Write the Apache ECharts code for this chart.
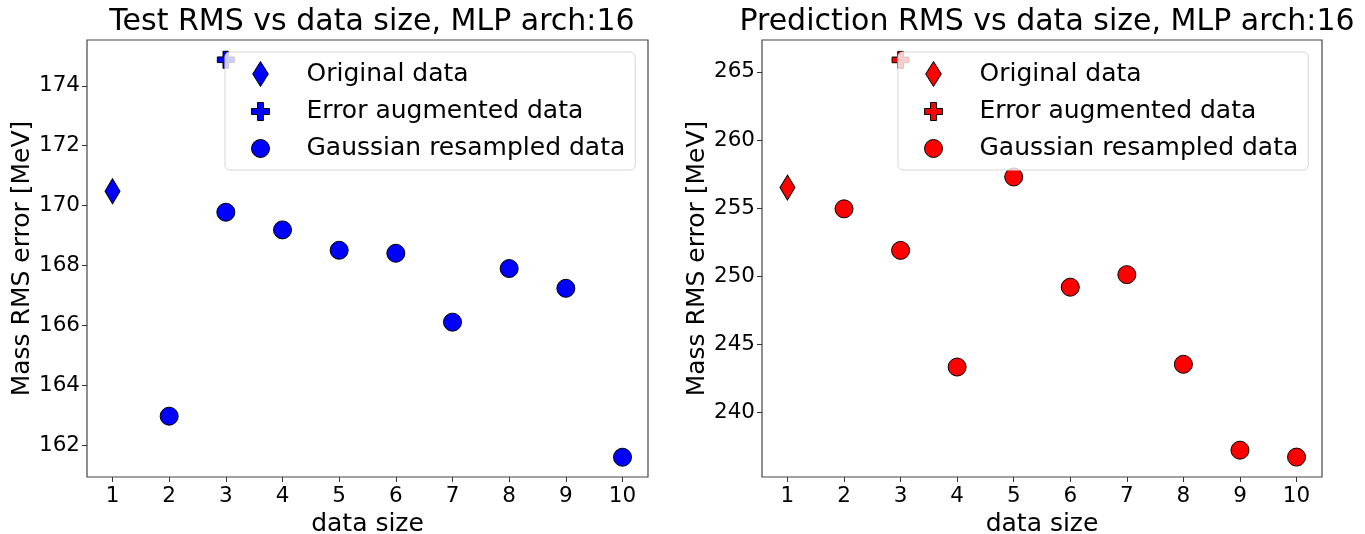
<!DOCTYPE html>
<html>
<head>
<meta charset="utf-8">
<script src="https://cdn.jsdelivr.net/npm/echarts@6/dist/echarts.min.js"></script>
<style>
  html, body { margin: 0; padding: 0; background: #fff; }
  #chart { width: 1365px; height: 534px; }
</style>
</head>
<body>
<div id="chart"></div>
<script>
// data sizes on the x axis
var sizes = [1, 2, 3, 4, 5, 6, 7, 8, 9, 10];
var origX = [1];
var augX = [3];
var gaussX = [2, 3, 4, 5, 6, 7, 8, 9, 10];

// test RMS (left panel)
var testOrig = [170.48];
var testAug = [174.87];
var testGauss = [162.97, 169.78, 169.19, 168.51, 168.41, 166.11, 167.90, 167.24, 161.60];
var testTicks = [162, 164, 166, 168, 170, 172, 174];

// prediction RMS (right panel)
var predOrig = [256.51];
var predAug = [265.88];
var predGauss = [254.95, 251.90, 243.34, 257.29, 249.20, 250.12, 243.54, 237.24, 236.73];
var predTicks = [240, 245, 250, 255, 260, 265];

function pairs(xs, ys) {
    return xs.map(function (x, i) { return [x, ys[i]]; });
}

var FONT = "DejaVu Sans";
var diamond = "path://M0,-12L7.5,0L0,12L-7.5,0Z";
var plus = "path://M1,0H2V1H3V2H2V3H1V2H0V1H1Z";

function xAxisFor(idx) {
    return {
        gridIndex: idx, type: "value", min: 0.55, max: 10.45,
        name: "data size", nameLocation: "middle", nameGap: 32,
        nameTextStyle: {fontFamily: FONT, fontSize: 25, color: "#000", verticalAlign: "top"},
        axisLine: {show: false},
        axisTick: {show: true, length: 5, customValues: sizes, lineStyle: {color: "#333"}},
        axisLabel: {customValues: sizes, fontFamily: FONT, fontSize: 21.5, color: "#000", margin: 8},
        splitLine: {show: false}
    };
}

function yAxisFor(idx, min, max, ticks) {
    return {
        gridIndex: idx, type: "value", min: min, max: max,
        name: "Mass RMS error [MeV]", nameLocation: "middle", nameGap: 52,
        nameTextStyle: {fontFamily: FONT, fontSize: 25, color: "#000"},
        axisLine: {show: false},
        axisTick: {show: true, length: 5, customValues: ticks, lineStyle: {color: "#333"}},
        axisLabel: {customValues: ticks, fontFamily: FONT, fontSize: 21.5, color: "#000", margin: 7},
        splitLine: {show: false}
    };
}

function seriesFor(idx, color, orig, aug, gauss, suffix) {
    var edge = {color: color, borderColor: "#000", borderWidth: 1, opacity: 1};
    return [
        {name: "Original data" + suffix, type: "scatter", xAxisIndex: idx, yAxisIndex: idx,
         symbol: diamond, symbolSize: [15, 25], itemStyle: edge, data: pairs(origX, orig)},
        {name: "Error augmented data" + suffix, type: "scatter", xAxisIndex: idx, yAxisIndex: idx,
         symbol: plus, symbolSize: 17, itemStyle: edge, data: pairs(augX, aug)},
        {name: "Gaussian resampled data" + suffix, type: "scatter", xAxisIndex: idx, yAxisIndex: idx,
         symbol: "circle", symbolSize: 18, itemStyle: edge, data: pairs(gaussX, gauss)}
    ];
}

function legendFor(left, suffix, color) {
    var st = {color: color, borderColor: "#000", borderWidth: 1, opacity: 1};
    return {
        orient: "vertical", left: left, top: 52,
        itemWidth: 18, itemHeight: 25, itemGap: 12,
        padding: [9, 10, 9, 26],
        backgroundColor: "rgba(255,255,255,0.8)",
        borderColor: "#d6d6d6", borderWidth: 1, borderRadius: 5,
        selectedMode: false,
        formatter: function (n) { return n.replace(/\u200b/g, ""); },
        textStyle: {fontFamily: FONT, fontSize: 25, color: "#000", padding: [0, 0, 0, 32]},
        data: [
            {name: "Original data" + suffix, icon: diamond, itemStyle: st},
            {name: "Error augmented data" + suffix, icon: plus, itemStyle: st},
            {name: "Gaussian resampled data" + suffix, icon: "circle", itemStyle: st}
        ]
    };
}

var chart = echarts.init(document.getElementById("chart"), null, {renderer: "canvas"});
var option = {
    animation: false,
    backgroundColor: "#fff",
    title: [
        {text: "Test RMS vs data size, MLP arch:16", left: 367, top: 2, textAlign: "center",
         textStyle: {fontFamily: FONT, fontSize: 30, fontWeight: "normal", color: "#000"}},
        {text: "Prediction RMS vs data size, MLP arch:16", left: 1042, top: 2, textAlign: "center",
         textStyle: {fontFamily: FONT, fontSize: 30, fontWeight: "normal", color: "#000"}}
    ],
    grid: [
        {left: 87, top: 40, width: 561, height: 437, show: true, borderColor: "#444", borderWidth: 1.2,
         outerBoundsMode: "none", containLabel: false},
        {left: 762, top: 40, width: 560, height: 437, show: true, borderColor: "#444", borderWidth: 1.2,
         outerBoundsMode: "none", containLabel: false}
    ],
    xAxis: [xAxisFor(0), xAxisFor(1)],
    yAxis: [yAxisFor(0, 160.94, 175.53, testTicks), yAxisFor(1, 235.27, 267.34, predTicks)],
    legend: [legendFor(225, "", "#0000ff"), legendFor(898, "\u200b", "#ff0000")],
    series: seriesFor(0, "#0000ff", testOrig, testAug, testGauss, "")
        .concat(seriesFor(1, "#ff0000", predOrig, predAug, predGauss, "\u200b"))
};
chart.setOption(option);
</script>
</body>
</html>
